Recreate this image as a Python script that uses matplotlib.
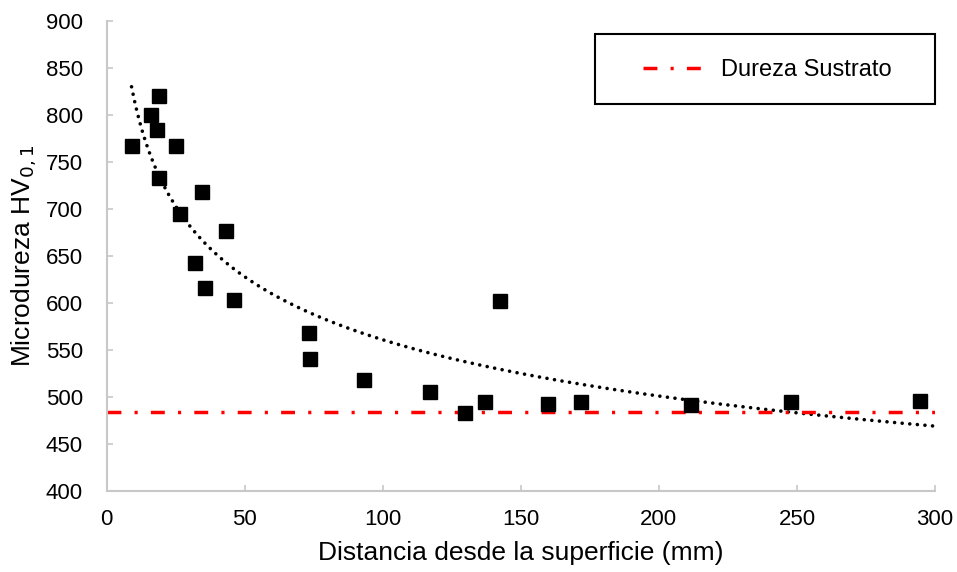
import numpy as np
import matplotlib
matplotlib.use("Agg")
import matplotlib.pyplot as plt
from matplotlib.patches import Rectangle

plt.rcParams['font.family'] = ['Liberation Sans', 'DejaVu Sans']

distancia = [9.2, 16.0, 18.9, 18.2, 18.9, 25.1, 26.5, 34.5, 32.0, 35.6, 43.2, 46.1,
             73.3, 73.6, 93.2, 117.1, 129.8, 137.0, 142.5, 159.9, 171.8, 211.7, 247.9, 294.6]
dureza = [767, 800, 820, 784, 733, 767, 695, 718, 643, 616, 677, 603,
          568, 540, 518, 505, 483, 495, 602, 493, 495, 491, 495, 496]
dureza_sustrato = 484

# Power trendline y = A * x^B
trend_a = 1187.0
trend_b = -0.1628
trend_x_start = 9.0
trend_x_end = 300

W, H = 957, 572
fig = plt.figure(figsize=(W / 100, H / 100), dpi=100)
ax = fig.add_axes([106.7 / W, 1 - 491 / H, (935 - 106.7) / W, (491 - 21) / H])

ax.plot(distancia, dureza, 's', color='black', markersize=10, zorder=3)

xt = np.linspace(trend_x_start, trend_x_end, 300)
yt = trend_a * xt ** trend_b
ax.plot(xt, yt, color='black', linestyle=(0, (0.01, 2.1)), linewidth=2.6,
        dash_capstyle='round', zorder=2)

ax.plot([0, 300], [dureza_sustrato, dureza_sustrato], color='#ff0000', linewidth=2.5,
        linestyle=(0, (4, 3.8, 0.9, 3.8)), label='Dureza Sustrato', zorder=2)

ax.set_xlim(0, 300)
ax.set_ylim(400, 900)
ax.set_xticks(np.arange(0, 301, 50))
ax.set_yticks(np.arange(400, 901, 50))
for s in ['top', 'right']:
    ax.spines[s].set_visible(False)
for s in ['left', 'bottom']:
    ax.spines[s].set_color('#c8c8c8')
    ax.spines[s].set_linewidth(1.5)
ax.tick_params(axis='both', colors='#c8c8c8', labelcolor='black', labelsize=16,
               length=4.5, width=1.2, direction='in')
ax.tick_params(axis='x', pad=13)
ax.tick_params(axis='y', pad=17)

ax.set_xlabel('Distancia desde la superficie (mm)', fontsize=19, labelpad=8)
ax.set_ylabel('Microdureza HV$_{0,1}$', fontsize=19, labelpad=5)

# Legend box
box = Rectangle((595 / W, 1 - 104 / H), 340 / W, 70 / H, transform=fig.transFigure,
                facecolor='white', edgecolor='black', linewidth=1.5, zorder=4,
                clip_on=False)
ax.add_patch(box)
leg = ax.legend(loc='center left', bbox_to_anchor=(643 / W, 1 - 70 / H),
                bbox_transform=fig.transFigure, fontsize=17, frameon=False,
                handlelength=2.55, borderpad=0.0, handletextpad=0.75,
                borderaxespad=0.0)
leg.set_zorder(5)

fig.savefig('out.png', dpi=100)
